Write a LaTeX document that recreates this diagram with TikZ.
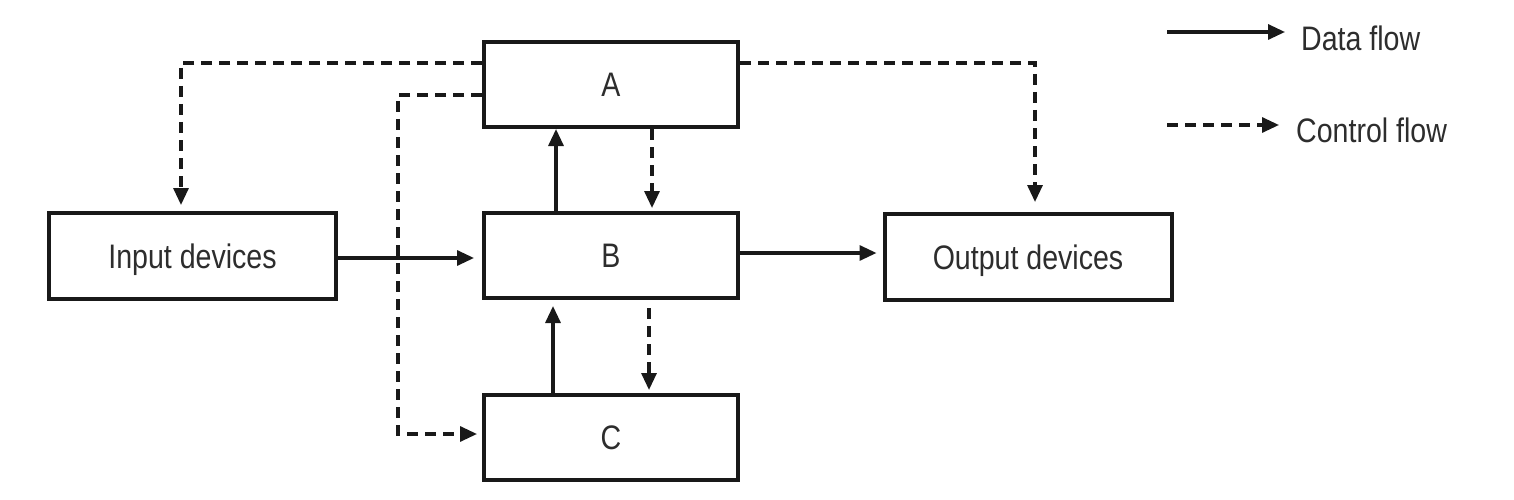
\documentclass[tikz,border=0pt]{standalone}
\usepackage{fontspec}
\setmainfont[FakeStretch=0.84]{Liberation Sans}
\usetikzlibrary{arrows.meta}
\definecolor{ink}{RGB}{25,25,25}
\definecolor{txt}{RGB}{45,45,45}
\begin{document}
\begin{tikzpicture}[x=1pt,y=-1pt,
  box/.style={draw=ink,line width=4pt,fill=white,inner sep=0pt,
    font=\fontsize{34}{40}\selectfont,text=txt,text height=24.3pt,text depth=0pt},
  data/.style={draw=ink,line width=3.2pt,-{Triangle[length=17pt,width=15pt]}},
  ctrl/.style={draw=ink,line width=3.2pt,dash pattern=on 11pt off 7pt,-{Triangle[length=17pt,width=15pt]}},
  lbl/.style={font=\fontsize{34}{40}\selectfont,text=txt,anchor=west,inner sep=0pt,text height=24.3pt,text depth=0pt}]
\useasboundingbox (0,0) rectangle (1514,500);
\node[box,minimum width=254pt,minimum height=85pt] (A) at (611,84.5) {A};
\node[box,minimum width=254pt,minimum height=85pt] (B) at (611,255.5) {B};
\node[box,minimum width=254pt,minimum height=85pt] (C) at (611,437.5) {C};
\node[box,minimum width=287pt,minimum height=86pt] (In) at (192.5,256) {Input devices};
\node[box,minimum width=287pt,minimum height=86pt] (Out) at (1028,257) {Output devices};
% data flows
\draw[data,shorten >=8pt] (In.east |- 0,258) -- (B.west |- 0,258);
\draw[data,shorten >=6pt] (B.east |- 0,253) -- (Out.west |- 0,253);
\draw[data] (B.north -| 556,0) -- (A.south -| 556,0);
\draw[data,shorten >=6pt] (C.north -| 553,0) -- (B.south -| 553,0);
% control flows
\draw[ctrl,shorten >=3pt] (A.south -| 652,0) -- (B.north -| 652,0);
\draw[ctrl,shorten >=3pt] (B.south -| 649,0) ++(0,8) -- (C.north -| 649,0);
\draw[ctrl,shorten >=6pt] (A.west |- 0,63) -| (In.north -| 181,0);
\draw[ctrl,shorten >=5pt] (A.west |- 0,95) -- (398,95) |- (C.west |- 0,434);
\draw[ctrl,shorten >=10pt] (A.east |- 0,63) -| (Out.north -| 1035,0);
% legend
\coordinate (d1) at (1167,32);
\coordinate (d2) at (1285,32);
\coordinate (c1) at (1167,125);
\coordinate (c2) at (1279,125);
\draw[data] (d1) -- (d2);
\draw[ctrl] (c1) -- (c2);
\node[lbl] (dl) at (1301,38) {Data flow};
\node[lbl] (cl) at (1296,130) {Control flow};
\end{tikzpicture}
\end{document}
